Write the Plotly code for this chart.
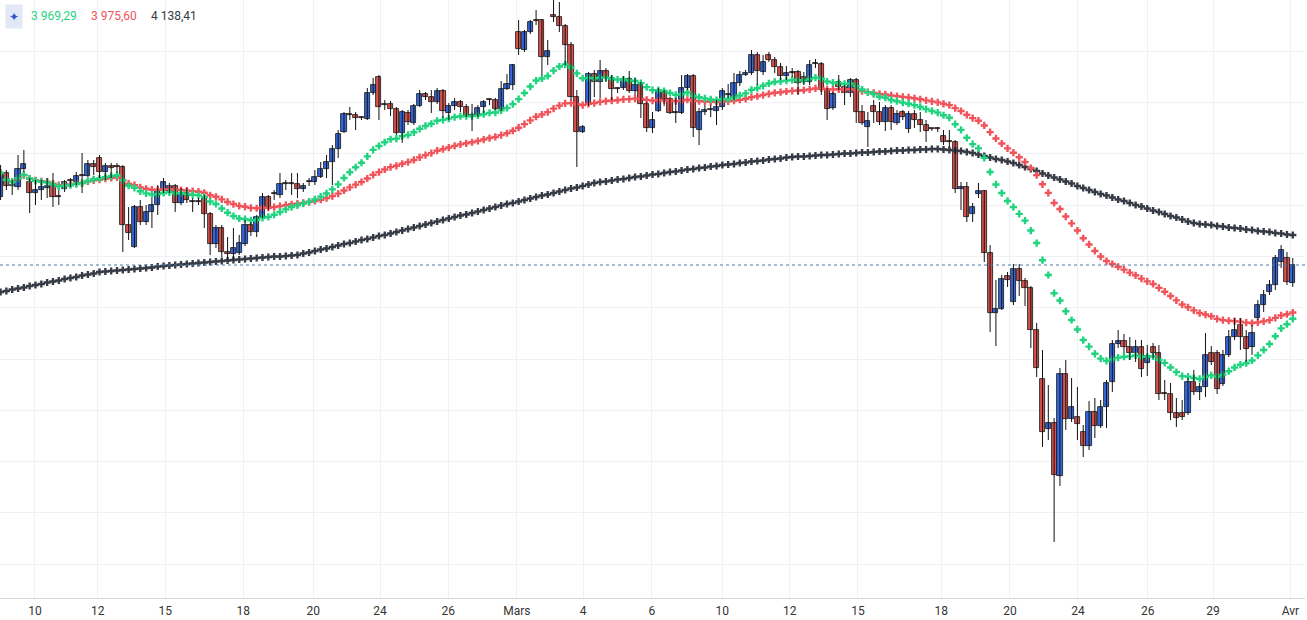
import plotly.graph_objects as go
import pandas as pd

# candle rows: [open, high, low, close]
candles = [
[4216,4280,4210,4264],[4264,4270,4230,4238],[4238,4250,4220,4238],[4236,4300,4230,4272],[4272,4310,4266,4282],
[4246,4254,4184,4224],[4224,4250,4200,4230],[4230,4250,4210,4236],[4234,4254,4214,4238],[4238,4264,4196,4216],
[4216,4230,4200,4216],[4232,4250,4226,4246],[4248,4254,4236,4248],[4246,4266,4240,4258],[4258,4304,4224,4258],
[4258,4290,4256,4282],[4282,4290,4260,4276],[4294,4300,4254,4266],[4266,4284,4250,4278],[4278,4284,4254,4274],
[4276,4284,4264,4276],[4276,4280,4106,4160],[4160,4196,4130,4144],[4116,4200,4114,4196],[4196,4210,4160,4166],
[4166,4200,4160,4186],[4186,4214,4154,4200],[4200,4240,4180,4228],[4228,4254,4224,4246],[4228,4244,4224,4238],
[4238,4242,4186,4204],[4204,4234,4200,4224],[4224,4234,4204,4210],[4206,4214,4186,4206],[4206,4214,4200,4206],
[4216,4220,4154,4182],[4182,4186,4100,4122],[4122,4160,4114,4154],[4154,4160,4096,4106],[4106,4136,4090,4102],
[4102,4154,4090,4114],[4104,4140,4100,4124],[4122,4170,4118,4160],[4160,4166,4138,4146],[4146,4180,4136,4176],
[4176,4224,4174,4216],[4216,4220,4190,4196],[4222,4230,4210,4222],[4220,4264,4214,4242],[4242,4250,4230,4242],
[4242,4264,4220,4242],[4242,4264,4214,4232],[4232,4244,4226,4238],[4246,4254,4238,4246],[4246,4270,4240,4256],
[4256,4286,4254,4272],[4272,4300,4254,4286],[4286,4320,4240,4312],[4312,4350,4294,4342],[4346,4386,4344,4382],
[4380,4396,4370,4380],[4380,4386,4350,4374],[4374,4378,4370,4374],[4372,4434,4370,4424],[4424,4454,4420,4440],
[4456,4460,4370,4396],[4400,4410,4390,4400],[4402,4408,4378,4392],[4392,4396,4340,4344],[4344,4390,4324,4386],
[4384,4390,4360,4366],[4364,4402,4360,4398],[4398,4430,4396,4422],[4422,4426,4410,4416],[4416,4430,4384,4406],
[4406,4434,4402,4428],[4428,4432,4374,4388],[4384,4404,4370,4398],[4398,4414,4390,4406],[4406,4410,4386,4396],
[4396,4402,4376,4378],[4378,4402,4348,4378],[4380,4400,4376,4394],[4396,4410,4384,4406],[4410,4412,4400,4410],
[4410,4414,4390,4392],[4392,4448,4388,4432],[4432,4462,4430,4442],[4440,4482,4430,4480],[4546,4570,4500,4512],
[4510,4550,4506,4546],[4546,4570,4542,4566],[4568,4590,4560,4568],[4570,4572,4460,4496],[4496,4530,4480,4508],
[4580,4610,4566,4576],[4576,4606,4546,4558],[4558,4562,4480,4520],[4520,4526,4410,4416],[4416,4430,4276,4346],
[4346,4360,4344,4356],[4402,4466,4398,4462],[4462,4470,4416,4446],[4446,4490,4414,4468],[4468,4474,4446,4454],
[4454,4460,4410,4432],[4432,4436,4424,4432],[4434,4458,4430,4452],[4452,4468,4424,4428],[4428,4454,4420,4440],
[4440,4446,4374,4402],[4402,4406,4346,4354],[4354,4386,4344,4370],[4388,4434,4386,4428],[4428,4430,4398,4412],
[4412,4414,4382,4384],[4384,4414,4364,4384],[4384,4460,4382,4434],[4434,4462,4430,4458],[4458,4462,4336,4354],
[4350,4394,4320,4386],[4386,4400,4380,4390],[4390,4400,4376,4390],[4388,4410,4360,4396],[4396,4434,4390,4428],
[4420,4442,4414,4420],[4414,4464,4410,4444],[4444,4468,4438,4460],[4460,4470,4458,4464],[4464,4510,4460,4500],
[4500,4506,4440,4468],[4466,4500,4460,4486],[4500,4506,4486,4490],[4490,4496,4464,4476],[4476,4484,4450,4458],
[4458,4478,4450,4464],[4464,4474,4456,4464],[4466,4470,4420,4444],[4456,4466,4440,4446],[4446,4490,4440,4480],
[4482,4492,4474,4482],[4482,4486,4420,4430],[4430,4434,4370,4392],[4394,4426,4390,4422],[4446,4460,4430,4436],
[4436,4440,4400,4424],[4424,4454,4416,4450],[4450,4454,4364,4386],[4386,4400,4360,4364],[4356,4386,4316,4368],
[4398,4410,4364,4386],[4386,4406,4360,4366],[4366,4400,4348,4394],[4394,4400,4350,4366],[4364,4390,4360,4382],
[4386,4390,4370,4376],[4352,4388,4344,4382],[4382,4390,4354,4370],[4370,4386,4346,4360],[4360,4370,4326,4348],
[4352,4354,4348,4352],[4352,4356,4346,4352],[4338,4350,4320,4326],[4326,4350,4316,4326],[4326,4330,4224,4232],
[4232,4246,4190,4236],[4236,4246,4166,4176],[4182,4204,4166,4196],[4222,4244,4214,4228],[4228,4230,4086,4104],
[4104,4120,3946,3984],[3984,4050,3918,3992],[3992,4060,3990,4052],[4058,4066,4036,4050],[4006,4082,4000,4072],
[4072,4082,4018,4048],[4048,4054,3998,4034],[4034,4038,3914,3950],[3950,3964,3856,3874],[3852,3910,3716,3746],
[3752,3840,3730,3764],[3764,3774,3526,3660],[3658,3874,3638,3862],[3862,3890,3750,3772],[3772,3854,3766,3796],
[3776,3836,3730,3762],[3746,3760,3696,3718],[3718,3808,3710,3786],[3786,3814,3734,3758],[3758,3810,3754,3796],
[3796,3850,3754,3844],[3846,3930,3826,3922],[3922,3950,3914,3928],[3928,3942,3904,3916],[3916,3936,3890,3904],
[3904,3930,3886,3916],[3916,3930,3856,3872],[3884,3920,3858,3898],[3916,3924,3894,3904],[3904,3920,3810,3822],
[3822,3850,3810,3822],[3822,3844,3770,3784],[3784,3814,3756,3774],[3784,3810,3770,3776],[3784,3854,3780,3846],
[3846,3870,3820,3826],[3826,3844,3810,3836],[3836,3944,3816,3900],[3904,3918,3880,3886],[3904,3910,3822,3832],
[3842,3910,3838,3900],[3900,3950,3896,3936],[3936,3974,3930,3950],[3960,3974,3910,3936],[3936,3950,3886,3912],
[3916,3960,3900,3944],[3974,4010,3970,4000],[4000,4030,3986,4020],[4026,4050,4020,4040],[4040,4100,4030,4094],
[4086,4120,4074,4110],[4094,4106,4040,4046],[4044,4094,4036,4080],
]

ma_long = [
4026,4028,4031,4033,4035,4038,4040,4042,4045,4047,4049,4052,4054,4056,4059,4061,4063,4066,
4067,4068,4069,4070,4071,4072,4073,4074,4075,4077,4078,4079,4080,4081,4082,4083,4084,
4085,4086,4087,4088,4089,4090,4091,4092,4093,4094,4095,4096,4097,4097,4098,4099,4100,
4103,4105,4108,4111,4113,4116,4119,4122,4124,4127,4130,4132,4135,4138,4140,4143,4146,
4149,4152,4155,4158,4161,4164,4167,4170,4173,4176,4179,4181,4184,4187,4190,4193,4196,
4199,4202,4204,4207,4210,4213,4216,4219,4221,4224,4227,4230,4233,4235,4238,4241,4244,
4246,4247,4249,4251,4252,4254,4256,4257,4259,4261,4262,4264,4266,4267,4269,4271,4272,4274,
4275,4277,4278,4280,4281,4282,4284,4285,4287,4288,4289,4291,4292,4293,4295,4296,
4297,4297,4298,4299,4300,4300,4301,4302,4303,4303,4304,4305,4305,4306,4307,4307,4308,
4309,4309,4310,4310,4311,4311,4312,
4312,4311,4310,4309,4308,4306,4304,
4301,4298,4295,4292,4290,4287,4284,
4280,4276,4272,4268,4263,4259,4255,4251,4247,4243,4238,4234,4230,4226,
4222,4219,4215,4211,4208,4204,4200,4197,4193,4189,4186,4182,4178,4175,4171,4167,4164,
4162,4161,4160,4158,4157,4155,4154,4153,4151,4150,4148,4147,4146,4144,4143,4141,4140,
]

tick_pos = [5.9, 16.7, 28.3, 41.7, 53.7, 65.2, 76.9, 88.7, 100.1, 111.9, 124, 135.6, 147.3, 161.6, 173.4, 185.1, 197.1, 208.3, 221.6]
tick_text = ["10", "12", "15", "18", "20", "24", "26", "Mars", "4", "6", "10", "12", "15", "18", "20", "24", "26", "29", "Avr"]
legend_vals = ["3 969,29", "3 975,60", "4 138,41"]

df = pd.DataFrame(candles, columns=["o", "h", "l", "c"])
x = list(range(len(df)))
ema_fast = df["c"].ewm(span=21).mean()
ema_slow = df["c"].ewm(span=55).mean()

GREEN, RED, DARK = "#1fd37f", "#f0545a", "#363a45"
UP, DOWN = "#3468dc", "#d9534f"

fig = go.Figure()
fig.add_trace(go.Scatter(x=x, y=ma_long, mode="markers",
    marker=dict(symbol="cross", size=6, color=DARK, line=dict(width=0)), hoverinfo="skip"))
fig.add_trace(go.Scatter(x=x, y=ema_slow, mode="markers",
    marker=dict(symbol="cross", size=6, color=RED, line=dict(width=0)), hoverinfo="skip"))
fig.add_trace(go.Scatter(x=x, y=ema_fast, mode="markers",
    marker=dict(symbol="cross", size=6, color=GREEN, line=dict(width=0)), hoverinfo="skip"))

# wicks
wx, wy = [], []
for i, r in df.iterrows():
    wx += [i, i, None]
    wy += [r["l"], r["h"], None]
fig.add_trace(go.Scatter(x=wx, y=wy, mode="lines", line=dict(color="#111111", width=1), hoverinfo="skip"))

# bodies
base = df[["o", "c"]].min(axis=1)
height = (df["c"] - df["o"]).abs().clip(lower=1.2)
colors = [UP if c > o else DOWN for o, c in zip(df["o"], df["c"])]
fig.add_trace(go.Bar(x=x, y=height, base=base, width=0.88,
    marker=dict(color=colors, line=dict(color="#111111", width=0.8)), hoverinfo="skip"))

fig.add_hline(y=df["c"].iloc[-1], line=dict(color="#4a78a8", width=1, dash="dot"))

fig.add_annotation(xref="paper", yref="paper", x=0.0, y=1.0, xanchor="left", yanchor="top",
    xshift=5, yshift=-4, text="✦", showarrow=False, font=dict(size=12, color="#3355cc"),
    bgcolor="#e3e8f7", borderpad=3)
cols = [GREEN, RED, DARK]
xs = [29, 89, 149]
for t, c, xx in zip(legend_vals, cols, xs):
    fig.add_annotation(xref="paper", yref="paper", x=0, y=1, xanchor="left", yanchor="top",
        xshift=xx, yshift=-7, text=t, showarrow=False,
        font=dict(size=12, color=c, family="Roboto, Arial"))

fig.update_layout(
    width=1307, height=620, margin=dict(l=0, r=2, t=0, b=22, autoexpand=False),
    paper_bgcolor="white", plot_bgcolor="white", showlegend=False, bargap=0,
    xaxis=dict(range=[-0.1, 224.1], tickvals=tick_pos, ticktext=tick_text,
               showgrid=True, gridcolor="#f0f1f4", zeroline=False, showline=True, linecolor="#d5d8dd",
               ticks="", ticklabelstandoff=2,
               tickfont=dict(size=12, color="#333", family="Roboto, Arial")),
    yaxis=dict(range=[3414, 4610], tick0=3892, dtick=102.6, showticklabels=False,
               showgrid=True, gridcolor="#f0f1f4", zeroline=False),
)
fig.write_html("out.html", config={"displayModeBar": False})
with open("out.html", encoding="utf-8") as f:
    html = f.read()
html = html.replace("<head>", "<head><style>html,body{margin:0;padding:0;overflow:hidden}</style>", 1)
with open("out.html", "w", encoding="utf-8") as f:
    f.write(html)
